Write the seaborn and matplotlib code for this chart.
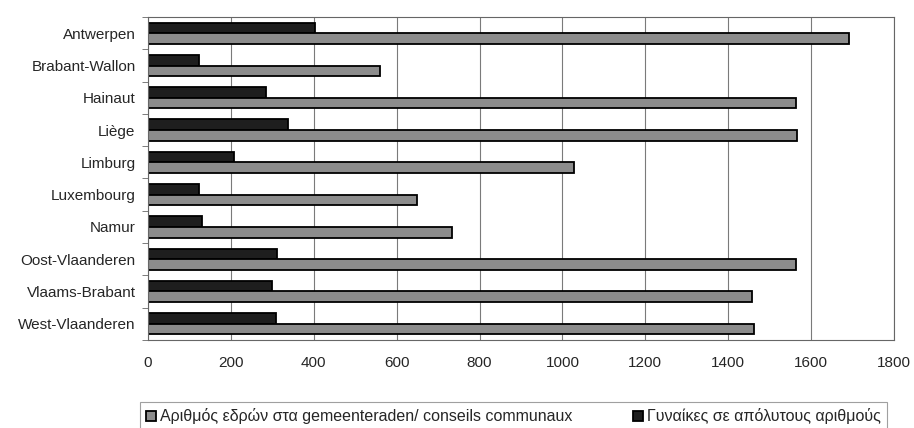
import matplotlib
matplotlib.use("Agg")
import matplotlib.pyplot as plt
import seaborn as sns
import pandas as pd
import numpy as np

provinces = ["Antwerpen", "Brabant-Wallon", "Hainaut", "Liège", "Limburg",
             "Luxembourg", "Namur", "Oost-Vlaanderen", "Vlaams-Brabant", "West-Vlaanderen"]
women = [402, 123, 284, 337, 208, 123, 130, 311, 298, 309]
seats = [1692, 560, 1563, 1566, 1028, 649, 733, 1563, 1457, 1463]

seats_label = "Αριθμός εδρών στα gemeenteraden/ conseils communaux"
women_label = "Γυναίκες σε απόλυτους αριθμούς"

df = pd.DataFrame({
    "province": provinces * 2,
    "value": women + seats,
    "series": [women_label] * len(provinces) + [seats_label] * len(provinces),
})

sns.set_style("white")
plt.rcParams["font.family"] = ["Liberation Sans", "DejaVu Sans"]

fig = plt.figure(figsize=(9.14, 4.28), dpi=100)
ax = fig.add_axes([0.162, 0.206, 0.816, 0.754])

sns.barplot(data=df, y="province", x="value", hue="series",
            hue_order=[women_label, seats_label],
            palette=["#1e1e1e", "#8c8c8c"], orient="h",
            width=0.66, edgecolor="black", linewidth=1.3, ax=ax)

ax.set_xlim(0, 1800)
ax.set_ylim(len(provinces) - 0.5, -0.5)
ax.set_xticks(range(0, 1801, 200))
ax.set_yticks(np.arange(-0.5, len(provinces)), minor=True)
ax.xaxis.grid(True, color="#7a7a7a", linewidth=0.8)
ax.set_axisbelow(True)
ax.set_xlabel("")
ax.set_ylabel("")
ax.tick_params(axis="both", which="major", labelsize=11, length=0, pad=9)
ax.tick_params(axis="x", which="major", length=4, direction="out", color="#666666", pad=8)
ax.tick_params(axis="y", which="minor", length=4, direction="out", color="#666666", left=True)
for s in ax.spines.values():
    s.set_color("#666666")
    s.set_linewidth(0.8)

# legend below the plot, seats first
handles, labels = ax.get_legend_handles_labels()
ax.get_legend().remove()
leg = fig.legend(handles[::-1], labels[::-1], loc="upper left",
                 bbox_to_anchor=(140 / 914, 1 - 402 / 428, 747 / 914, 0), mode="expand",
                 ncol=2, fontsize=11.5, frameon=True, fancybox=False,
                 edgecolor="#888888", handlelength=0.6, handleheight=0.6,
                 handletextpad=0.25, borderpad=0.4, borderaxespad=0)
leg.get_frame().set_linewidth(0.8)

fig.savefig("out.png", dpi=100)
